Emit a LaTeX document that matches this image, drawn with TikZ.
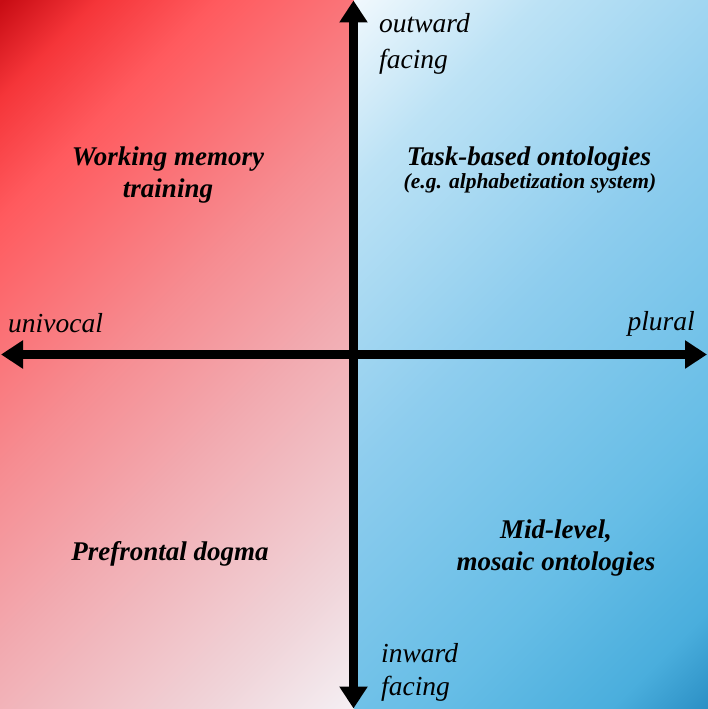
\documentclass[tikz,border=0pt]{standalone}
\usepackage{fontspec}
\setmainfont{Liberation Serif}
\usetikzlibrary{arrows.meta}
\definecolor{rA}{HTML}{C80C14}
\definecolor{rB}{HTML}{F53539}
\definecolor{rC}{HTML}{FF5A5E}
\definecolor{rD}{HTML}{F68C91}
\definecolor{rE}{HTML}{F2AAB0}
\definecolor{rF}{HTML}{F0D5DA}
\definecolor{rG}{HTML}{F4EFF3}
\definecolor{bA}{HTML}{F0F8FD}
\definecolor{bB}{HTML}{BCE2F5}
\definecolor{bC}{HTML}{8ECDEE}
\definecolor{bD}{HTML}{66BDE6}
\definecolor{bE}{HTML}{4AAEDD}
\definecolor{bF}{HTML}{2C90C5}
\pgfdeclarehorizontalshading{redsh}{100bp}{color(0bp)=(rA); color(14.64bp)=(rA); color(21bp)=(rB); color(29bp)=(rC); color(46bp)=(rD); color(58bp)=(rE); color(76bp)=(rF); color(85.36bp)=(rG); color(100bp)=(rG)}
\pgfdeclarehorizontalshading{bluesh}{100bp}{color(0bp)=(bA); color(14.64bp)=(bA); color(27bp)=(bB); color(46bp)=(bC); color(67bp)=(bD); color(79bp)=(bE); color(85.36bp)=(bF); color(100bp)=(bF)}
\tikzset{
  axisline/.style={line width=8.5pt, -{Triangle[length=22pt,width=27pt]}, black},
  bigtxt/.style={font=\fontsize{27}{30}\selectfont\bfseries\itshape, anchor=base, inner sep=0pt},
  smalltxt/.style={font=\fontsize{21.5}{24}\selectfont\bfseries\itshape, anchor=base, inner sep=0pt},
  axtxt/.style={font=\fontsize{27.5}{30}\selectfont\itshape, inner sep=0pt},
}
\begin{document}
\begin{tikzpicture}[x=1pt,y=-1pt]
\useasboundingbox (0,0) rectangle (708,709);
\shade[shading=redsh, shading angle=-45] (0,0) rectangle (354,709);
\shade[shading=bluesh, shading angle=-45] (354,0) rectangle (708,709);
\coordinate (W) at (1,354.5);
\coordinate (E) at (707,354.5);
\coordinate (N) at (353.5,0.5);
\coordinate (S) at (353.5,708.5);
\coordinate (C) at (353.5,354.5);
\draw[axisline] (C) -- (W);
\draw[axisline] (C) -- (E);
\draw[axisline] (C) -- (N);
\draw[axisline] (C) -- (S);
\node[axtxt, anchor=base west] (ow) at (379,33) {outward};
\node[axtxt, anchor=base west] (of) at (379,68) {facing};
\node[axtxt, anchor=base west] (iw) at (381,662) {inward};
\node[axtxt, anchor=base west] (iff) at (381,695) {facing};
\node[axtxt, anchor=base west] (uv) at (8,332) {univocal};
\node[axtxt, anchor=base east] (pl) at (695,330) {plural};
\node[bigtxt] (wm1) at (168,165) {Working memory};
\node[bigtxt] (wm2) at (168,197) {training};
\node[bigtxt] (tb1) at (529,165) {Task-based ontologies};
\node[smalltxt] (tb2) at (530,188) {(e.g. alphabetization system)};
\node[bigtxt] (pd) at (170,560) {Prefrontal dogma};
\node[bigtxt] (ml1) at (556,538) {Mid-level,};
\node[bigtxt] (ml2) at (556,570) {mosaic ontologies};
\end{tikzpicture}
\end{document}
